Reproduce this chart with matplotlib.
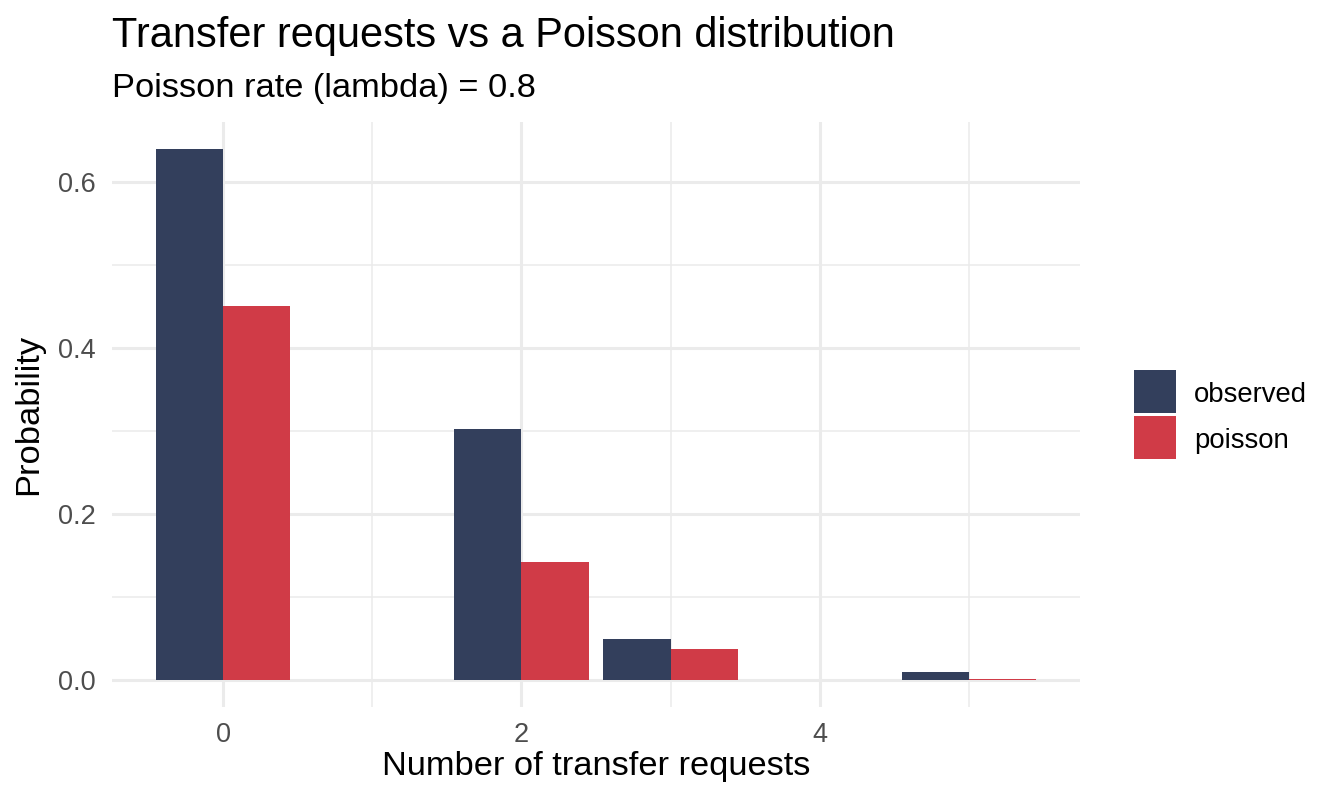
import matplotlib
matplotlib.use("Agg")
import matplotlib.pyplot as plt
from matplotlib.patches import Rectangle
import numpy as np

plt.rcParams['font.family'] = ['Liberation Sans', 'DejaVu Sans']

# Data
requests = [0, 2, 3, 5]
observed = [0.640, 0.303, 0.050, 0.010]
poisson = [0.451, 0.143, 0.038, 0.0012]
series_names = ["observed", "poisson"]
colors = ["#333F5C", "#D03B47"]

W, H = 1344, 806
fig = plt.figure(figsize=(W / 100, H / 100), dpi=100)
pl, pr, pt, pb = 112, 1080, 122, 707
ax = fig.add_axes([pl / W, 1 - pb / H, (pr - pl) / W, (pb - pt) / H])

bw = 0.45
x = np.array(requests, dtype=float)
ax.bar(x - bw / 2, observed, width=bw, color=colors[0], zorder=3, linewidth=0)
ax.bar(x + bw / 2, poisson, width=bw, color=colors[1], zorder=3, linewidth=0)

# ggplot-like expansion
xmin, xmax = x.min() - bw, x.max() + bw
xr = xmax - xmin
ax.set_xlim(xmin - 0.05 * xr, xmax + 0.05 * xr)
ymax = max(max(observed), max(poisson))
ax.set_ylim(-0.05 * ymax, 1.05 * ymax)

ax.set_xticks([0, 2, 4])
ax.set_xticks([1, 3, 5], minor=True)
ax.set_yticks([0.0, 0.2, 0.4, 0.6])
ax.set_yticklabels(["0.0", "0.2", "0.4", "0.6"])
ax.set_yticks([0.1, 0.3, 0.5], minor=True)

ax.grid(which='major', color='#EBEBEB', linewidth=2.2, zorder=0)
ax.grid(which='minor', color='#EBEBEB', linewidth=1.1, zorder=0)
ax.set_axisbelow(True)
for s in ax.spines.values():
    s.set_visible(False)
ax.tick_params(which='both', length=0)
ax.tick_params(axis='x', labelsize=19.5, labelcolor='#4D4D4D', pad=11)
ax.tick_params(axis='y', labelsize=19.5, labelcolor='#4D4D4D', pad=12)

ax.set_xlabel("Number of transfer requests", fontsize=24.75, color='black')
ax.set_ylabel("Probability", fontsize=24.75, color='black')
ax.xaxis.set_label_coords(0.5, -(751 - pb) / (pb - pt))
ax.yaxis.set_label_coords((44 - pl) / (pr - pl), 0.5)

fig.text(pl / W, 1 - 47 / H, "Transfer requests vs a Poisson distribution",
         fontsize=29.9, ha='left', va='baseline')
fig.text(pl / W, 1 - 97 / H, "Poisson rate (lambda) = 0.8",
         fontsize=24.75, ha='left', va='baseline')

# Legend (ggplot style keys)
key_x, key_w, key_h = 1134, 42, 43
key_tops = [370, 416]
for c, n, top in zip(colors, series_names, key_tops):
    fig.add_artist(Rectangle((key_x / W, 1 - (top + key_h) / H), key_w / W, key_h / H,
                             transform=fig.transFigure, facecolor=c,
                             edgecolor='none'))
    fig.text(1194 / W, 1 - (top + key_h / 2) / H, n, fontsize=19.8,
             ha='left', va='center_baseline')

fig.savefig("out.png", dpi=100)
